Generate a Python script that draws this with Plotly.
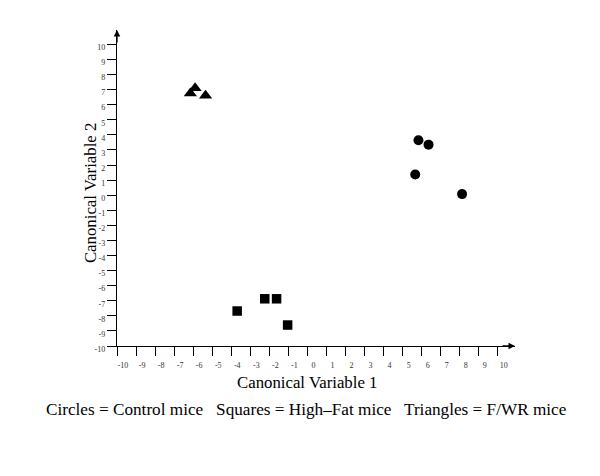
import plotly.graph_objects as go

# Data
control_x = [5.83, 6.36, 5.66, 8.12]
control_y = [3.64, 3.35, 1.37, 0.07]
highfat_x = [-3.69, -2.24, -1.62, -1.04]
highfat_y = [-7.68, -6.87, -6.87, -8.61]
fwr_x = [-6.15, -5.90, -5.35]
fwr_y = [6.75, 7.10, 6.60]

tick_values = list(range(-10, 11))
tick_labels = [str(v) for v in tick_values]

x_title = "Canonical Variable 1"
y_title = "Canonical Variable 2"
footer = "Circles = Control mice   Squares = High\u2013Fat mice   Triangles = F/WR mice"

FONT = "Liberation Serif, DejaVu Serif, serif"

fig = go.Figure()
fig.add_trace(go.Scatter(x=control_x, y=control_y, mode="markers", name="Control",
                         marker=dict(symbol="circle", size=10, color="black")))
fig.add_trace(go.Scatter(x=highfat_x, y=highfat_y, mode="markers", name="High-Fat",
                         marker=dict(symbol="square", size=9.5, color="black")))
fig.add_trace(go.Scatter(x=fwr_x, y=fwr_y, mode="markers", name="F/WR",
                         marker=dict(symbol="triangle-up", size=11.5, color="black")))

axis_common = dict(
    showgrid=False, zeroline=False, showline=True, linecolor="black", linewidth=1.3,
    ticks="outside", ticklen=9, tickwidth=1.2, tickcolor="black",
    tickmode="array", tickvals=tick_values, ticktext=tick_labels,
    tickfont=dict(family=FONT, size=8, color="#333"),
)

fig.update_layout(
    width=600, height=476,
    margin=dict(l=109, r=93, t=22, b=138),
    paper_bgcolor="white", plot_bgcolor="white",
    showlegend=False,
    font=dict(family=FONT, color="black"),
    xaxis=dict(range=[-10, 10.9], ticklabelshift=6, ticklabelstandoff=2, **axis_common),
    yaxis=dict(range=[-10, 10.95], ticklabelshift=3, ticklabelstandoff=0, **axis_common),
)

annotations = [
    # axis arrowheads
    dict(x=1, y=0, xref="paper", yref="paper", ax=-14, ay=0, text="", showarrow=True,
         arrowhead=2, arrowsize=1, arrowwidth=1.3, arrowcolor="black", standoff=0),
    dict(x=0, y=1, xref="paper", yref="paper", ax=0, ay=14, text="", showarrow=True,
         arrowhead=2, arrowsize=1, arrowwidth=1.3, arrowcolor="black", standoff=0),
    dict(x=0.477, y=-0.117, xref="paper", yref="paper", text=x_title, showarrow=False,
         font=dict(family=FONT, size=16.8, color="black"), xanchor="center", yanchor="middle"),
    dict(x=-0.0678, y=0.484, xref="paper", yref="paper", text=y_title, showarrow=False,
         textangle=-90, font=dict(family=FONT, size=16.8, color="black"),
         xanchor="center", yanchor="middle"),
    dict(x=0.475, y=-0.2025, xref="paper", yref="paper", text=footer, showarrow=False,
         font=dict(family=FONT, size=17.2, color="black"), xanchor="center", yanchor="middle"),
]
fig.update_layout(annotations=annotations)

fig.write_html("out.html")
